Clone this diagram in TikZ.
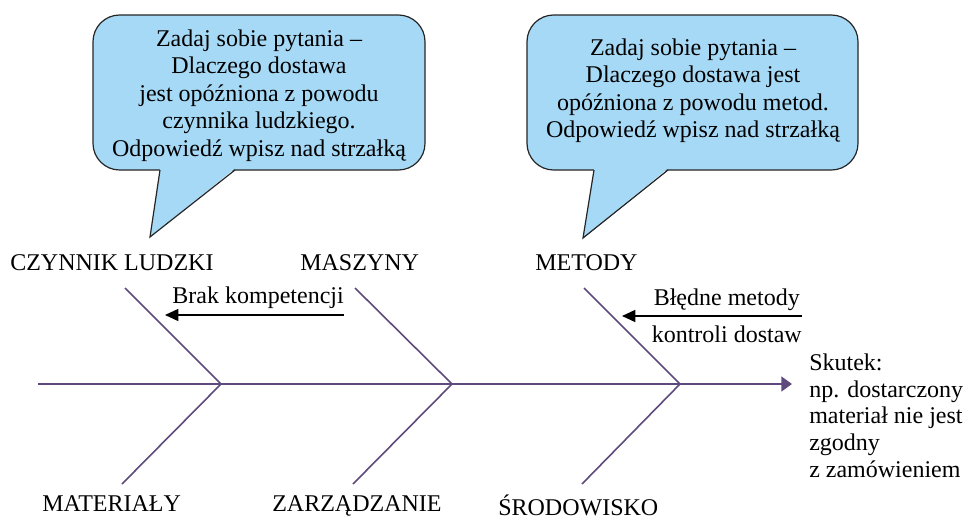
\documentclass[tikz,border=0pt]{standalone}
\usepackage{fontspec}
\setmainfont{Liberation Serif}
\usetikzlibrary{arrows.meta}
\definecolor{fishbone}{RGB}{94,74,124}
\definecolor{bubblefill}{RGB}{166,217,245}
\begin{document}
\begin{tikzpicture}[x=0.75pt,y=-0.75pt,
  every node/.style={font=\fontsize{18}{20}\selectfont, inner sep=0pt},
  spine/.style={draw=fishbone, line width=2.2pt, -{Triangle[length=8pt,width=11pt]}},
  bone/.style={draw=fishbone, line width=1.2pt},
  cause/.style={draw=black, line width=1.1pt, -{Triangle[length=10pt,width=9pt]}},
  bubbleline/.style={draw=black!85, line width=0.9pt, line join=miter},
  bubbletext/.style={align=center, font=\fontsize{18}{20.6}\selectfont},
  effecttext/.style={align=left, font=\fontsize{18}{19.9}\selectfont}]
\useasboundingbox (0,0) rectangle (967,521);

% speech bubble: human factor
\filldraw[fill=bubblefill, bubbleline, rounded corners=20pt] (93,15) rectangle (425,170);
\fill[bubblefill] (160,168.4) -- (235,168.4) -- (150,237) -- cycle;
\draw[bubbleline] (160,170) -- (150,237) -- (235,170);
\node[bubbletext, anchor=north] (q1) at (259,29.5)
  {Zadaj sobie pytania --\\Dlaczego dostawa\\jest opóźniona z powodu\\czynnika ludzkiego.\\Odpowiedź wpisz nad strzałką};

% speech bubble: methods
\filldraw[fill=bubblefill, bubbleline, rounded corners=20pt] (527,15) rectangle (858,170);
\fill[bubblefill] (594,168.4) -- (668,168.4) -- (583,238) -- cycle;
\draw[bubbleline] (594,170) -- (583,238) -- (668,170);
\node[bubbletext, anchor=north] (q2) at (693,38.5)
  {Zadaj sobie pytania --\\Dlaczego dostawa jest\\opóźniona z powodu metod.\\Odpowiedź wpisz nad strzałką};

% spine and bones
\coordinate (s0) at (38,384);
\coordinate (tip) at (792,384);
\coordinate (j1) at (221,384);
\coordinate (j2) at (452,384);
\coordinate (j3) at (680,384);
\coordinate (u1) at (125,288);
\coordinate (u2) at (355,288);
\coordinate (u3) at (584,288);
\coordinate (l1) at (122,484);
\coordinate (l2) at (353,484);
\coordinate (l3) at (582,484);
\draw[spine] (s0) -- (tip);
\draw[bone] (u1) -- (j1) -- (l1);
\draw[bone] (u2) -- (j2) -- (l2);
\draw[bone] (u3) -- (j3) -- (l3);

% category labels
\node[anchor=base west] (czl) at (10,270) {CZYNNIK LUDZKI};
\node[anchor=base west] (masz) at (300,270) {MASZYNY};
\node[anchor=base west] (met) at (535,270) {METODY};
\node[anchor=base west] (mat) at (42,511) {MATERIAŁY};
\node[anchor=base west] (zarz) at (272,511) {ZARZĄDZANIE};
\node[anchor=base west] (srod) at (498,515) {ŚRODOWISKO};

% causes
\coordinate (a1s) at (344,315);
\coordinate (a1e) at (165,315);
\draw[cause] (a1s) -- (a1e);
\node[anchor=base east] (brak) at (344,303) {Brak kompetencji};

\coordinate (a2s) at (802,316);
\coordinate (a2e) at (622,316);
\draw[cause] (a2s) -- (a2e);
\node[anchor=base east] (bm1) at (800,305) {Błędne metody};
\node[anchor=base east] (bm2) at (802,342) {kontroli dostaw};

% effect
\node[effecttext, anchor=north west] (eff) at (809,354)
  {Skutek:\\np. dostarczony\\materiał nie jest\\zgodny\\z zamówieniem};
\end{tikzpicture}
\end{document}
